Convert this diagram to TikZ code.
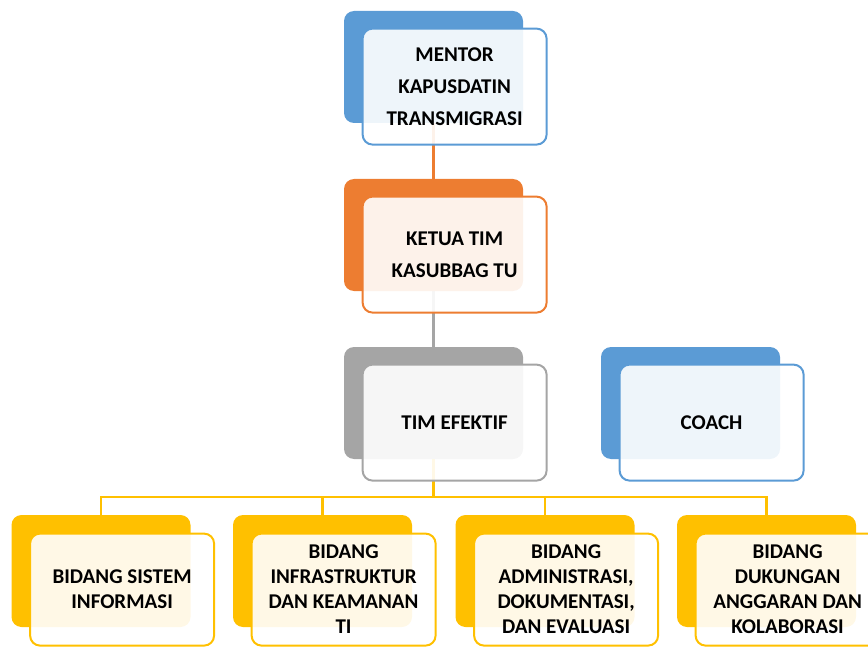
\documentclass[tikz,border=0pt]{standalone}
\usepackage{fontspec}
\setmainfont{Carlito}
\usepackage{tikz}
\usetikzlibrary{positioning,backgrounds}

\definecolor{blueacc}{HTML}{5B9BD5}
\definecolor{orangeacc}{HTML}{ED7D31}
\definecolor{grayacc}{HTML}{A5A5A5}
\definecolor{goldacc}{HTML}{FFC000}

\begin{document}
\begin{tikzpicture}[x=0.5pt,y=-0.5pt,
  back/.style={rectangle,rounded corners=5pt,fill=#1,draw=none,
  minimum width=89.5pt,minimum height=56pt,inner sep=0pt},
  front/.style={rectangle,rounded corners=5pt,draw=#1,line width=1pt,
  fill=white,fill opacity=0.9,text opacity=1,align=center,
  minimum width=92pt,minimum height=58pt,inner sep=0pt,
  font=\bfseries\fontsize{10.5}{16}\selectfont},
  low/.style={front=#1,minimum height=56pt,
  font=\bfseries\fontsize{10.5}{12.5}\selectfont},
  link/.style={line width=1.1pt,draw=#1}]

  \useasboundingbox (0,0) rectangle (868,647);
  \clip (0,0) rectangle (868,647);

  % back boxes
  \node[back=blueacc] (mentorB) at (433.5,67) {};
  \node[back=orangeacc] (ketuaB) at (433.5,235) {};
  \node[back=grayacc] (timB) at (433.5,403) {};
  \node[back=blueacc] (coachB) at (690.5,403) {};
  \node[back=goldacc] (sisB) at (101,571) {};
  \node[back=goldacc] (infB) at (322.5,571) {};
  \node[back=goldacc] (admB) at (545,571) {};
  \node[back=goldacc] (dukB) at (766.5,571) {};

  % front boxes
  \node[front=blueacc,anchor=north west] (mentor)
    at ([xshift=9pt,yshift=-8.5pt]mentorB.north west)
    {MENTOR\\KAPUSDATIN\\TRANSMIGRASI};
  \node[front=orangeacc,anchor=north west] (ketua)
    at ([xshift=9pt,yshift=-8.5pt]ketuaB.north west)
    {KETUA TIM\\KASUBBAG TU};
  \node[front=grayacc,anchor=north west] (tim)
    at ([xshift=9pt,yshift=-8.5pt]timB.north west)
    {TIM EFEKTIF};
  \node[front=blueacc,anchor=north west] (coach)
    at ([xshift=9pt,yshift=-8.5pt]coachB.north west)
    {COACH};
  \node[low=goldacc,anchor=north west] (sis)
    at ([xshift=9pt,yshift=-9pt]sisB.north west)
    {BIDANG SISTEM\\INFORMASI};
  \node[low=goldacc,anchor=north west] (inf)
    at ([xshift=9pt,yshift=-9pt]infB.north west)
    {BIDANG\\INFRASTRUKTUR\\DAN KEAMANAN\\TI};
  \node[low=goldacc,anchor=north west] (adm)
    at ([xshift=9pt,yshift=-9pt]admB.north west)
    {BIDANG\\ADMINISTRASI,\\DOKUMENTASI,\\DAN EVALUASI};
  \node[low=goldacc,anchor=north west] (duk)
    at ([xshift=9pt,yshift=-9pt]dukB.north west)
    {BIDANG\\DUKUNGAN\\ANGGARAN DAN\\KOLABORASI};

  % connectors
  \begin{scope}[on background layer]
    \coordinate (bus) at (433.5,497);
    \draw[link=orangeacc] (mentorB) -- (ketuaB);
    \draw[link=grayacc] (ketuaB) -- (timB);
    \draw[link=goldacc] (timB) -- (bus);
    \draw[link=goldacc] (bus) -| (sisB);
    \draw[link=goldacc] (bus) -| (infB);
    \draw[link=goldacc] (bus) -| (admB);
    \draw[link=goldacc] (bus) -| (dukB);
  \end{scope}
\end{tikzpicture}
\end{document}
